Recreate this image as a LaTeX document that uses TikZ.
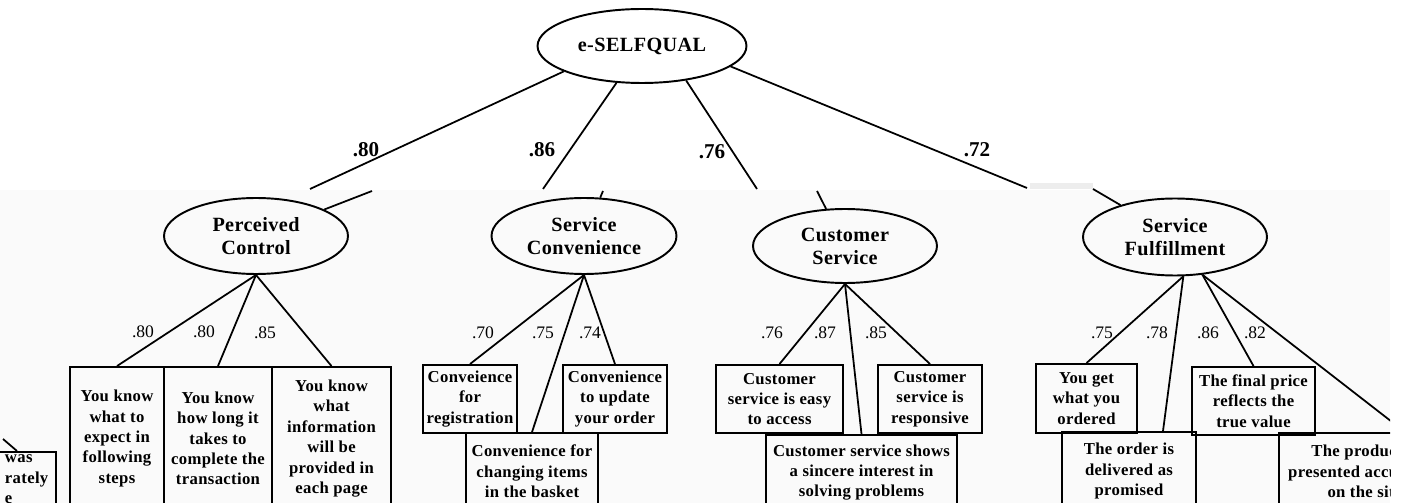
\documentclass[tikz,border=0pt]{standalone}
\usepackage{fontspec}
\setmainfont{Liberation Serif}
\newfontfamily\spacedfont[LetterSpace=2]{Liberation Serif}
\usetikzlibrary{shapes.geometric}
\usetikzlibrary{calc}

\begin{document}
\begin{tikzpicture}[x=0.02cm, y=-0.02cm, line width=1pt]
            \tikzstyle{latent} = [ellipse, draw, line width=1.1pt, align=center, inner sep=0pt, font=\spacedfont\bfseries\fontsize{11.5}{13}\selectfont]
            \tikzstyle{item} = [rectangle, draw, line width=1.1pt, align=center, inner sep=0pt, font=\spacedfont\bfseries\fontsize{9.5}{11.6}\selectfont]
            \tikzstyle{load} = [inner sep=0pt, font=\fontsize{10}{12}\selectfont]
            \tikzstyle{bigload} = [inner sep=0pt, font=\bfseries\fontsize{12}{14}\selectfont]

            \useasboundingbox (0, 0) rectangle (1403, 503);
            \clip (0, 0) rectangle (1390, 503);
            \fill[black!2] (0, 190) rectangle (1390, 503);
            \fill[black!7] (1030, 183) rectangle (1093, 189);

            \node[latent, minimum width=4.18cm, minimum height=1.48cm] (top) at (642, 46) {e-SELFQUAL};

            \node[latent, minimum width=3.68cm, minimum height=1.52cm] (pc) at (256, 236) {Perceived\\Control};
            \node[latent, minimum width=3.70cm, minimum height=1.52cm] (sc) at (584, 236) {Service\\Convenience};
            \node[latent, minimum width=3.68cm, minimum height=1.48cm] (cs) at (845, 246) {Customer\\Service};
            \node[latent, minimum width=3.68cm, minimum height=1.54cm] (sf) at (1175, 237) {Service\\Fulfillment};

            \coordinate (c80) at (310, 189);
            \coordinate (c86) at (543, 189);
            \coordinate (c76) at (757, 189);
            \coordinate (c72) at (1027, 188);
            \coordinate (d80) at (372, 191);
            \coordinate (d86) at (603, 191);
            \coordinate (d76) at (817, 191);
            \coordinate (d72) at (1093, 189);

            \draw (top.198) -- (c80);
            \draw (top) -- (c86);
            \draw (top.-38) -- (c76);
            \draw (top.-13) -- (c72);
            \draw (d80) -- (pc);
            \draw (d86) -- (sc);
            \draw (d76) -- (cs);
            \draw (d72) -- (sf);

            \node[bigload] (l80) at (366, 150) {.80};
            \node[bigload] (l86) at (542, 150) {.86};
            \node[bigload] (l76) at (712, 152) {.76};
            \node[bigload] (l72) at (977, 150) {.72};

            \node[item, minimum width=1.88cm, minimum height=2.86cm] (pc1) at (117, 438.5) {You know\\what to\\expect in\\following\\steps};
            \node[item, minimum width=2.16cm, minimum height=2.86cm] (pc2) at (218, 438.5) {You know\\how long it\\takes to\\complete the\\transaction};
            \node[item, minimum width=2.38cm, minimum height=2.86cm] (pc3) at (331.5, 438.5) {You know\\what\\information\\will be\\provided in\\each page};

            \node[item, minimum width=1.88cm, minimum height=1.36cm] (sc1) at (470, 399) {Conveience\\for\\registration};
            \node[item, minimum width=2.08cm, minimum height=1.36cm] (sc2) at (615, 399) {Convenience\\to update\\your order};
            \node[item, minimum width=2.64cm, minimum height=1.54cm] (sc3) at (532, 471.5) {Convenience for\\changing items\\in the basket};

            \node[item, minimum width=2.54cm, minimum height=1.36cm] (cs1) at (779.5, 399) {Customer\\service is easy\\to access};
            \node[item, minimum width=2.08cm, minimum height=1.36cm] (cs2) at (930, 399) {Customer\\service is\\responsive};
            \node[item, minimum width=3.82cm, minimum height=1.50cm] (cs3) at (861.5, 472.5) {Customer service shows\\a sincere interest in\\solving problems};

            \node[item, minimum width=2.02cm, minimum height=1.38cm] (sf1) at (1086.5, 398.5) {You get\\what you\\ordered};
            \node[item, minimum width=2.46cm, minimum height=1.36cm] (sf3) at (1253.5, 401) {The final price\\reflects the\\true value};
            \node[item, minimum width=2.68cm, minimum height=1.56cm] (sf2) at (1129, 471) {The order is\\delivered as\\promised};
            \node[item, minimum width=3.44cm, minimum height=1.54cm] (sf4) at (1365, 471.5) {The product is\\presented accurately\\on the site};

            \node[item, minimum width=2.4cm, minimum height=1.6cm, anchor=north east] (lb) at (57, 451) {};
            \node[item, draw=none, anchor=north west, align=left] (lbtext) at (4, 454) {was\\rately\\e};
            \coordinate (lbin) at (3, 439);
            \coordinate (lbhit) at (17, 451);
            \draw (lbin) -- (lbhit);

            \draw (pc.south) -- (pc1.north);
            \draw (pc.south) -- (pc2.north);
            \draw (pc.south) -- (pc3.north);
            \draw (sc.south) -- (sc1.north);
            \draw (sc.south) -- (sc3.north);
            \draw (sc.south) -- (sc2.north);
            \draw (cs.south) -- (cs1.north);
            \draw (cs.south) -- (cs3.north);
            \draw (cs.south) -- (cs2.north);
            \draw (sf.-78) -- (sf1.north);
            \draw (sf.-78) -- ($(sf2.north)+(34, 0)$);
            \draw (sf.-54) -- (sf3.north);
            \draw (sf.-54) -- ($(sf4.north)+(40, 0)$);

            \node[load] (m1) at (143, 332) {.80};
            \node[load] (m2) at (204, 332) {.80};
            \node[load] (m3) at (265, 333) {.85};
            \node[load] (m4) at (483, 333) {.70};
            \node[load] (m5) at (543, 333) {.75};
            \node[load] (m6) at (590, 333) {.74};
            \node[load] (m7) at (772, 333) {.76};
            \node[load] (m8) at (825, 333) {.87};
            \node[load] (m9) at (876, 333) {.85};
            \node[load] (m10) at (1102, 333) {.75};
            \node[load] (m11) at (1157, 333) {.78};
            \node[load] (m12) at (1208, 333) {.86};
            \node[load] (m13) at (1255, 333) {.82};
        \end{tikzpicture}
\end{document}
